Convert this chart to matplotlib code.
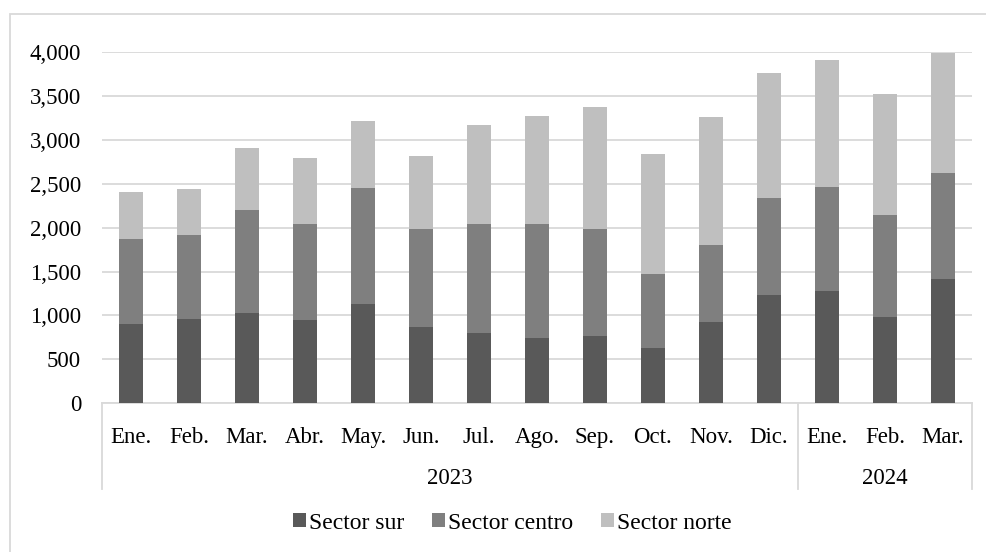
import matplotlib.pyplot as plt
from matplotlib.patches import Rectangle
from matplotlib.ticker import FuncFormatter
import matplotlib.transforms as mtransforms
import numpy as np

plt.rcParams['font.family'] = ['Liberation Serif', 'DejaVu Serif']

meses = ["Ene.", "Feb.", "Mar.", "Abr.", "May.", "Jun.", "Jul.", "Ago.", "Sep.",
         "Oct.", "Nov.", "Dic.", "Ene.", "Feb.", "Mar."]
anios = ["2023", "2024"]
meses_por_anio = [12, 3]

sector_sur = [900, 955, 1027, 947, 1126, 864, 803, 742, 765, 628, 921, 1233, 1278, 982, 1415]
sector_centro = [968, 959, 1176, 1096, 1324, 1118, 1240, 1298, 1221, 848, 879, 1103, 1192, 1164, 1214]
sector_norte = [537, 525, 708, 758, 773, 838, 1127, 1232, 1389, 1363, 1461, 1427, 1441, 1377, 1370]

colores = ["#595959", "#7f7f7f", "#bfbfbf"]
grid_col = "#d9d9d9"
fs = 16.5

fig = plt.figure(figsize=(9.87, 5.52), dpi=100)
ax = fig.add_axes([0.1033, 0.2699, 0.8815, 0.6350])

x = np.arange(len(meses))
sur = np.array(sector_sur)
centro = np.array(sector_centro)
norte = np.array(sector_norte)
ax.bar(x, sur, width=0.4, color=colores[0], label="Sector sur", zorder=3)
ax.bar(x, centro, width=0.4, bottom=sur, color=colores[1], label="Sector centro", zorder=3)
ax.bar(x, norte, width=0.4, bottom=sur + centro, color=colores[2], label="Sector norte", zorder=3)

ax.set_xlim(-0.5, len(meses) - 0.5)
ax.set_ylim(0, 4000)
ax.set_yticks(np.arange(0, 4001, 500))
ax.yaxis.set_major_formatter(FuncFormatter(lambda v, p: f"{int(v):,}"))
ax.tick_params(axis='y', length=0, pad=15, labelsize=fs)
ax.set_xticks([])
ax.grid(axis='y', color=grid_col, lw=1.3, zorder=0)
for s in ["top", "right", "left"]:
    ax.spines[s].set_visible(False)
ax.spines["bottom"].set_color(grid_col)
ax.spines["bottom"].set_linewidth(1.3)

# category axis with month and year rows
trans = mtransforms.blended_transform_factory(ax.transData, fig.transFigure)
for i, m in enumerate(meses):
    ax.text(i, 0.2083, m, transform=trans, ha='center', va='center', fontsize=fs)
inicio = -0.5
limites = [inicio]
for nombre, n in zip(anios, meses_por_anio):
    ax.text(inicio + n / 2, 0.1325, nombre, transform=trans, ha='center', va='center', fontsize=fs)
    inicio += n
    limites.append(inicio)
for b in limites:
    ax.plot([b, b], [0.2699, 1 - 489 / 552], transform=trans, color=grid_col, lw=1.3, clip_on=False)

fig.legend(loc='center', bbox_to_anchor=(0.519, 0.0525), ncol=3, frameon=False, fontsize=17,
           handlelength=0.55, handleheight=0.55, handletextpad=0.12, columnspacing=1.2)

fig.patches.append(Rectangle((10 / 987, -0.1), 1.2, 1 - 14 / 552 + 0.1, transform=fig.transFigure,
                             fill=False, edgecolor=grid_col, lw=1.3))

fig.savefig("out.png", dpi=100)
